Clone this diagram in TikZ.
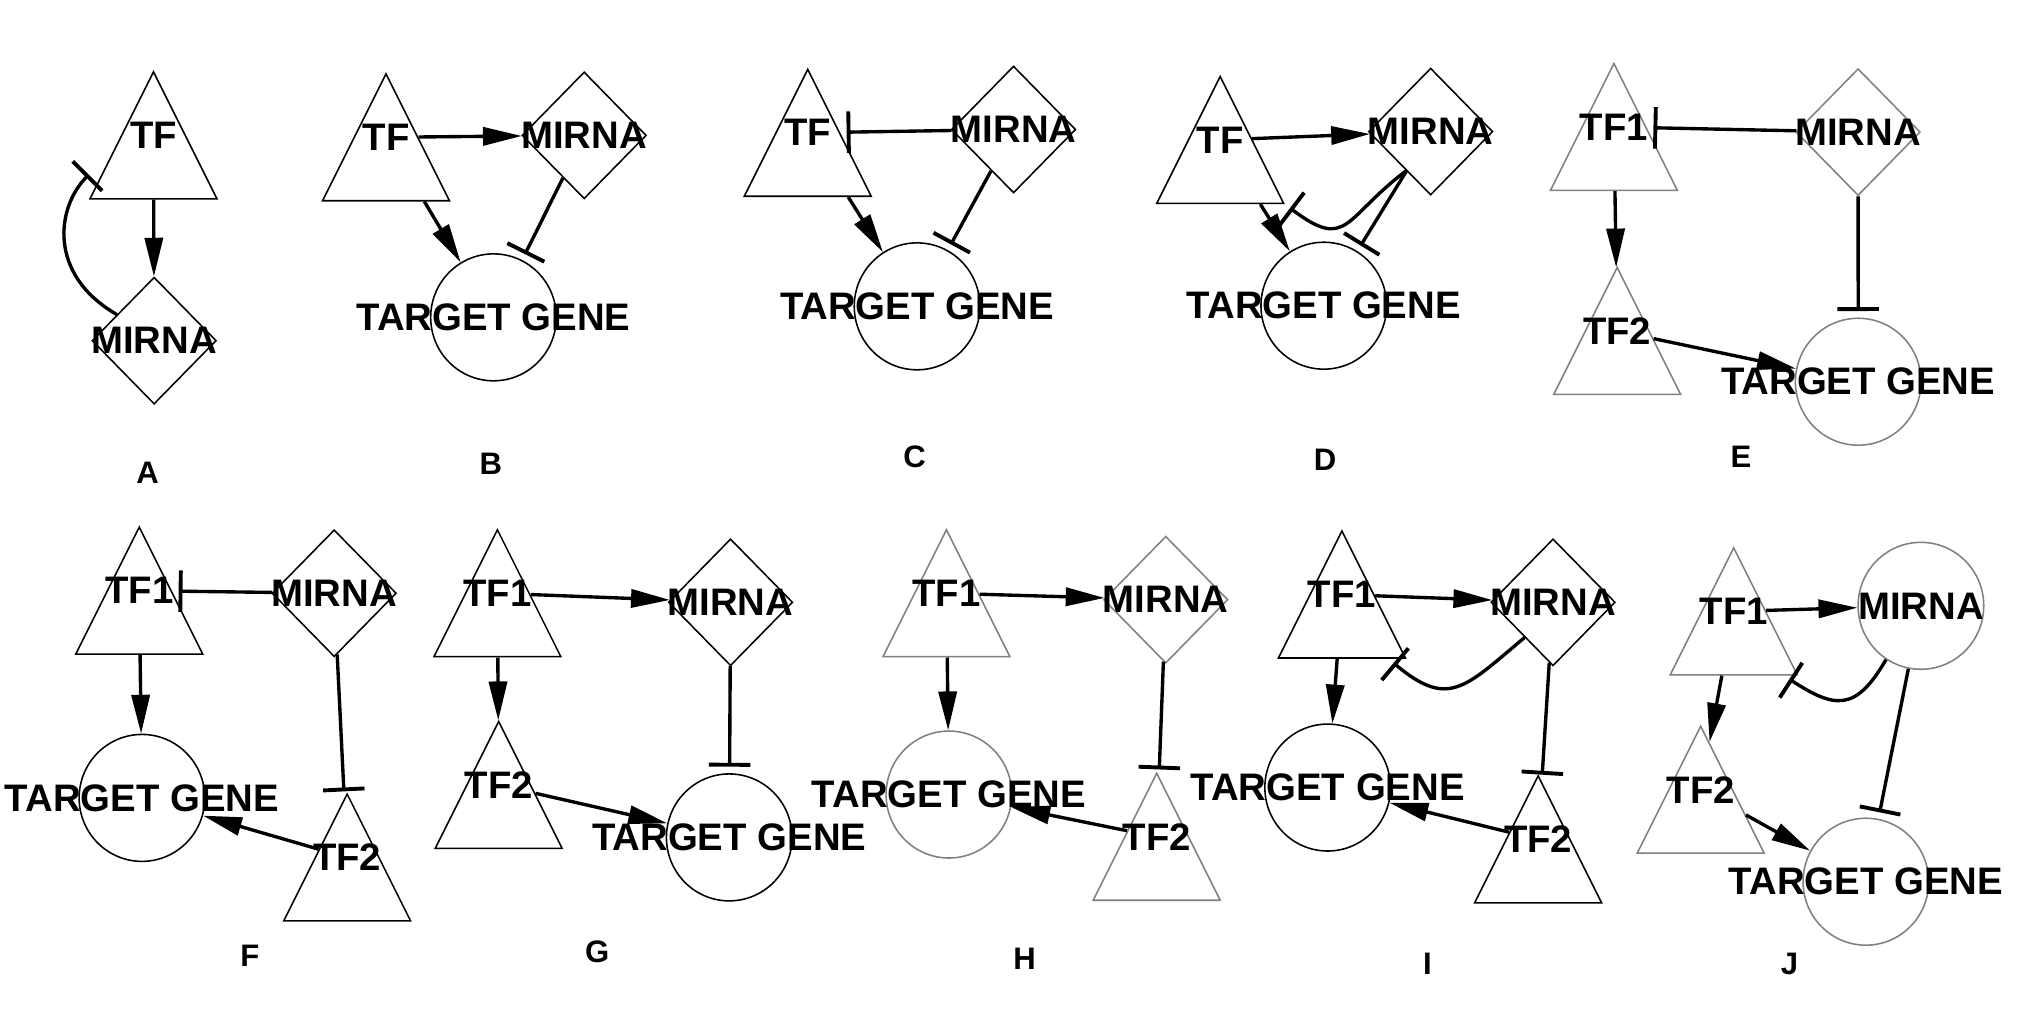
\documentclass[tikz,border=0pt]{standalone}
\usepackage{fontspec}
\setmainfont{Liberation Sans}
\usetikzlibrary{arrows.meta,shapes.geometric}

\begin{document}
\begin{tikzpicture}[
    x=0.5pt, y=-0.5pt,
    >={Triangle[length=15pt,width=7pt]},
    tf/.style={
        isosceles triangle,
        isosceles triangle stretches,
        shape border rotate=90,
        draw=black,
        line width=0.6pt,
        minimum width=49pt,
        minimum height=49pt,
        inner xsep=0pt,
        inner ysep=24.5pt
    },
    mirna/.style={
        diamond,
        draw=black,
        line width=0.6pt,
        minimum width=48pt,
        minimum height=49pt,
        inner sep=0pt
    },
    gene/.style={
        ellipse,
        draw=black,
        line width=0.6pt,
        minimum width=48.5pt,
        minimum height=49pt,
        inner sep=0pt
    },
    pale/.style={
        draw=black!50
    },
    txt/.style={
        font=\fontsize{14.8}{16}\selectfont\bfseries,
        inner sep=0pt
    },
    tag/.style={
        font=\fontsize{12}{14}\selectfont\bfseries,
        inner sep=0pt
    },
    act/.style={
        ->,
        line width=1.3pt
    },
    inh/.style={
        -{Bar[width=16pt,line width=1.5pt]},
        line width=1.3pt,
        shorten >=2.5pt
    }
]
\useasboundingbox (0,0) rectangle (1568,782);

% Panel A
\node[tf, label={[txt]center:TF}] (a1) at (118.5,104.5) {};
\node[mirna, label={[txt]center:MIRNA}] (a2) at (119,263) {};
\node[tag] (a) at (114,365) {A};

\draw[act] (a1) -- (a2);
\draw[inh, shorten >=13.5pt] (a2.145) to[out=150, in=225, looseness=1.25] (a1.200);

% Panel B
\node[tf, label={[txt]center:TF}] (b1) at (298,106) {};
\node[mirna, label={[txt]center:MIRNA}] (b2) at (451,104.5) {};
\node[gene, label={[txt]center:TARGET GENE}] (b3) at (381,245) {};
\node[tag] (b) at (379,358) {B};

\draw[act] (b1) -- (b2);
\draw[act] (b1) -- (b3);
\draw[inh] (b2) -- (b3);

% Panel C
\node[tf, label={[txt]center:TF}] (c1) at (623.6,102.5) {};
\node[mirna, label={[txt]center:MIRNA}] (c2) at (782.5,100) {};
\node[gene, label={[txt]center:TARGET GENE}] (c3) at (708,236.5) {};
\node[tag] (c) at (706,353) {C};

\draw[inh] (c2) -- (c1);
\draw[act] (c1) -- (c3);
\draw[inh] (c2) -- (c3);

% Panel D
\node[tf, label={[txt]center:TF}] (d1) at (942,108) {};
\node[mirna, label={[txt]center:MIRNA}] (d2) at (1104.5,101.6) {};
\node[gene, label={[txt]center:TARGET GENE}] (d3) at (1022,236) {};
\node[tag] (d) at (1023,355) {D};

\draw[act] (d1) -- (d2);
\draw[act] (d1) -- (d3);
\draw[inh] (d2) -- (d3);
\draw[inh] (d2.238) to[out=217, in=323, looseness=1.6] (d1.right corner);

% Panel E
\node[tf, pale, label={[txt]center:TF1}] (e1) at (1246,98) {};
\node[mirna, pale, label={[txt]center:MIRNA}] (e2) at (1434.5,102) {};
\node[tf, pale, label={[txt]center:TF2}] (e3) at (1248.5,255.5) {};
\node[gene, pale, label={[txt]center:TARGET GENE}] (e4) at (1434.6,294.7) {};
\node[tag] (e) at (1344,353) {E};

\draw[inh] (e2) -- (e1);
\draw[act] (e1) -- (e3);
\draw[act] (e3) -- (e4);
\draw[inh] (e2) -- (e4);

% Panel F
\node[tf, label={[txt]center:TF1}] (f1) at (107.5,456) {};
\node[mirna, label={[txt]center:MIRNA}] (f2) at (258,458) {};
\node[gene, label={[txt]center:TARGET GENE}] (f3) at (109.6,616) {};
\node[tf, label={[txt]center:TF2}] (f4) at (268,662) {};
\node[tag] (f) at (193,738) {F};

\draw[inh] (f2) -- (f1);
\draw[act] (f1) -- (f3);
\draw[inh] (f2) -- (f4);
\draw[act] (f4) -- (f3);

% Panel G
\node[tf, label={[txt]center:TF1}] (g1) at (384,458) {};
\node[mirna, label={[txt]center:MIRNA}] (g2) at (564,465) {};
\node[tf, label={[txt]center:TF2}] (g3) at (385,606) {};
\node[gene, label={[txt]center:TARGET GENE}] (g4) at (563,646.5) {};
\node[tag] (g) at (461,735) {G};

\draw[act] (g1) -- (g2);
\draw[act] (g1) -- (g3);
\draw[act] (g3) -- (g4);
\draw[inh] (g2) -- (g4);

% Panel H
\node[tf, pale, label={[txt]center:TF1}] (h1) at (730.7,458) {};
\node[mirna, pale, label={[txt]center:MIRNA}] (h2) at (900,463) {};
\node[gene, pale, label={[txt]center:TARGET GENE}] (h3) at (732.6,613.4) {};
\node[tf, pale, label={[txt]center:TF2}] (h4) at (893,646) {};
\node[tag] (h) at (791,740) {H};

\draw[act] (h1) -- (h2);
\draw[act] (h1) -- (h3);
\draw[inh] (h2) -- (h4);
\draw[act] (h4) -- (h3);

% Panel I
\node[tf, label={[txt]center:TF1}] (i1) at (1036,459) {};
\node[mirna, label={[txt]center:MIRNA}] (i2) at (1199,465) {};
\node[gene, label={[txt]center:TARGET GENE}] (i3) at (1025,608) {};
\node[tf, label={[txt]center:TF2}] (i4) at (1187.5,648) {};
\node[tag] (i) at (1102,744) {I};

\draw[act] (i1) -- (i2);
\draw[act] (i1) -- (i3);
\draw[inh] (i2) -- (i4);
\draw[act] (i4) -- (i3);
\draw[inh] (i2.231) to[out=220, in=320, looseness=1.45] (i1.-54);

% Panel J
\node[tf, pale, label={[txt]center:TF1}] (j1) at (1338.5,472) {};
\node[gene, pale, label={[txt]center:MIRNA}] (j2) at (1483,467.7) {};
\node[tf, pale, label={[txt]center:TF2}] (j3) at (1313,609.7) {};
\node[gene, pale, label={[txt]center:TARGET GENE}] (j4) at (1440.5,680.7) {};
\node[tag] (j) at (1381.6,744) {J};

\draw[act] (j1) -- (j2);
\draw[inh] (j2.237) to[out=240, in=327, looseness=1.5] (j1.-52);
\draw[act] (j1) -- (j3);
\draw[act] (j3) -- (j4);
\draw[inh] (j2) -- (j4);

\end{tikzpicture}
\end{document}
